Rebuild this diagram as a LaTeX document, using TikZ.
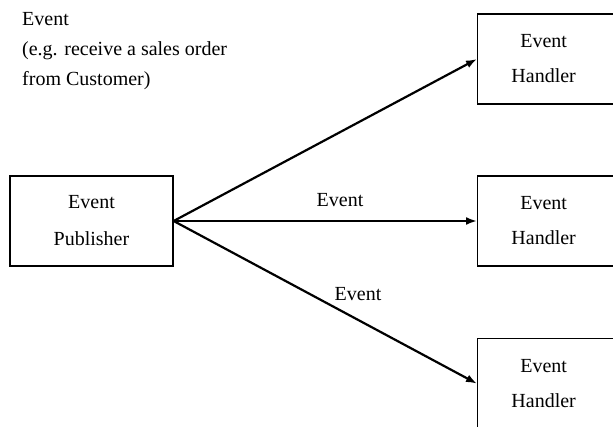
\documentclass[tikz,border=0pt]{standalone}
\usepackage{fontspec}
\setmainfont{Liberation Serif}
\usetikzlibrary{arrows.meta}
\begin{document}
\begin{tikzpicture}[x=1pt,y=-1pt,
  box/.style={draw,line width=1.3pt,minimum width=163pt,minimum height=90pt,inner sep=0pt,align=center,font=\fontsize{20}{37}\selectfont},
  hbox/.style={box,minimum width=140pt,font=\fontsize{20}{35}\selectfont},
  conn/.style={line width=2.2pt,-{Latex[length=11pt,width=8pt]}},
  lbl/.style={font=\fontsize{20}{30}\selectfont,inner sep=0pt}]
\useasboundingbox (0,0) rectangle (613,426);
\node[box] (pub) at (91.5,221) {Event\\Publisher};
\node[hbox,anchor=west] (h1) at (477,59) {\hspace*{-8pt}Event\\\hspace*{-8pt}Handler};
\node[hbox,anchor=west] (h2) at (477,221) {\hspace*{-8pt}Event\\\hspace*{-8pt}Handler};
\node[hbox,anchor=north west] (h3) at (477,338) {\hspace*{-8pt}Event\\\hspace*{-8pt}Handler};
\coordinate (src) at (pub.east);
\draw[conn] (src) -- (h1.west);
\draw[conn] (src) -- (h2.west);
\draw[conn] (src) -- (h3.west);
\node[lbl] (l1) at (340,200) {Event};
\node[lbl] (l2) at (358,294) {Event};
\node[lbl,anchor=north west,align=left] (t) at (22,12) {Event\\(e.g. receive a sales order\\from Customer)};
\end{tikzpicture}
\end{document}
